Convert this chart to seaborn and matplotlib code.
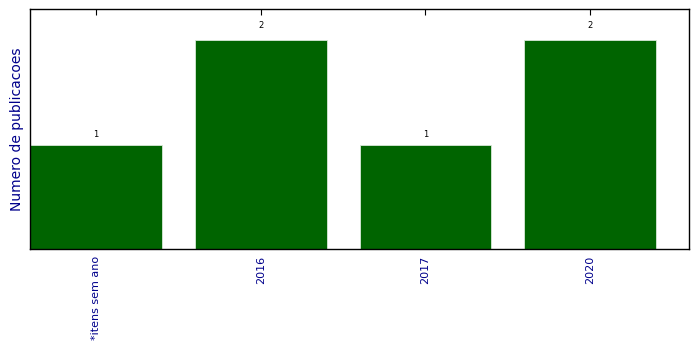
import matplotlib
matplotlib.use("Agg")
import matplotlib.pyplot as plt
import seaborn as sns
import pandas as pd

categories = ["*itens sem ano", "2016", "2017", "2020"]
counts = [1, 2, 1, 2]

sns.set_style("white")
plt.rcParams['font.family'] = ['DejaVu Sans']

df = pd.DataFrame({"ano": categories, "n": counts})

fig = plt.figure(figsize=(6.99, 3.49), dpi=100)
ax = fig.add_axes([30/699, 1-249/349, (689-30)/699, (249-9)/349])
sns.barplot(data=df, x="ano", y="n", color="#006400", saturation=1, width=0.8,
            edgecolor="#d8e8d8", linewidth=0.6, ax=ax)

for i, v in enumerate(counts):
    ax.text(i, v * 1.05, str(v), ha="center", va="bottom", fontsize=6, color="black")

ax.set_xlim(-0.4, 3.6)
ax.set_ylim(0, 2.3)
ax.set_yticks([])
ax.set_xlabel("")
ax.set_ylabel("Numero de publicacoes", color="darkblue", fontsize=10)
ax.tick_params(axis="x", direction="in", top=True, bottom=True, length=4, width=0.8,
               labelsize=8, labelcolor="darkblue", rotation=90, color="black", pad=5)
for s in ax.spines.values():
    s.set_visible(True)
    s.set_color("black")
    s.set_linewidth(1.0)

fig.savefig("out.png", dpi=100)
